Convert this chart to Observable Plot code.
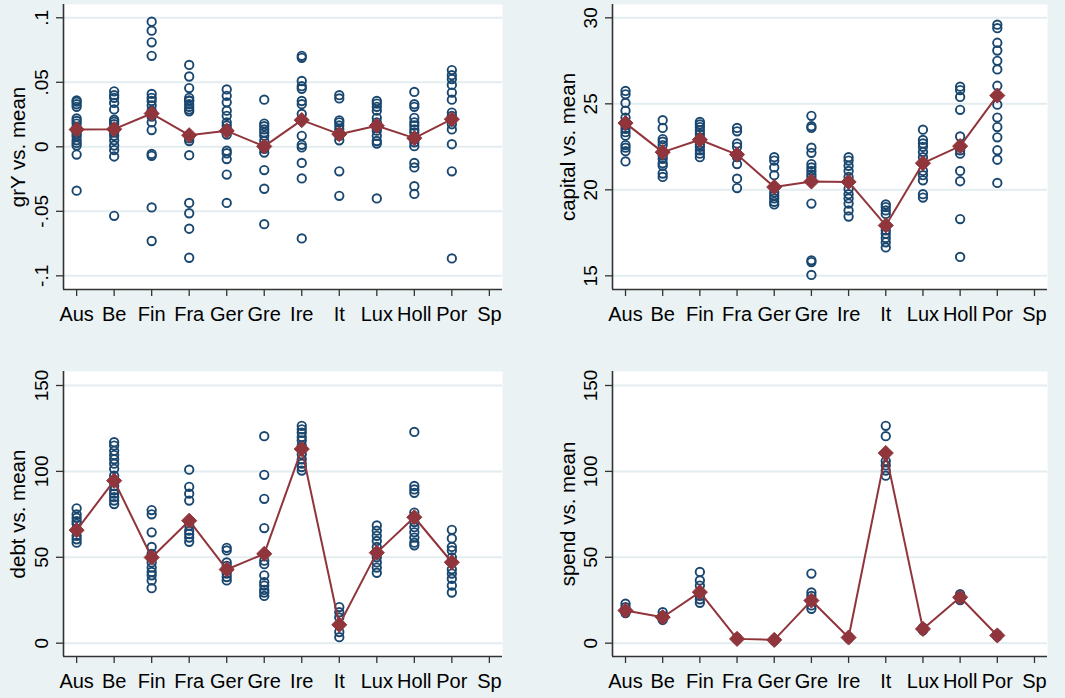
<!DOCTYPE html>
<html>
<head>
<meta charset="utf-8">
<script src="https://cdn.jsdelivr.net/npm/d3@7"></script>
<script src="https://cdn.jsdelivr.net/npm/@observablehq/plot@0.6"></script>
<style>
  html, body { margin: 0; padding: 0; background: #EAF2F3; }
  #wrap { position: relative; width: 1065px; height: 698px; background: #EAF2F3; overflow: hidden; }
  .panel { position: absolute; }
  .panel svg { display: block; background: transparent; }
</style>
</head>
<body>
<div id="wrap"></div>
<script>
// ---------------- data ----------------
const countries = ["Aus","Be","Fin","Fra","Ger","Gre","Ire","It","Lux","Holl","Por","Sp"];

// growth of Y, per country (observations)
const grY = [
  [0.036, 0.035, 0.033, 0.031, 0.022, 0.020, 0.018, 0.015, 0.012, 0.010, 0.008, 0.005, 0.003, 0.001, -0.006, -0.034],
  [0.043, 0.040, 0.038, 0.034, 0.029, 0.021, 0.0195, 0.0175, 0.013, 0.011, 0.0085, 0.005, 0.001, -0.0025, -0.0075, -0.0535],
  [0.097, 0.090, 0.081, 0.0705, 0.041, 0.038, 0.0355, 0.032, 0.028, 0.0235, 0.019, 0.013, -0.0055, -0.007, -0.047, -0.073],
  [0.0635, 0.0545, 0.0455, 0.038, 0.036, 0.0355, 0.033, 0.031, 0.029, 0.0275, 0.0065, 0.0045, -0.0065, -0.0435, -0.0515, -0.0635, -0.086],
  [0.0445, 0.0395, 0.0345, 0.028, 0.024, 0.019, 0.0165, 0.014, 0.0095, -0.003, -0.005, -0.0095, -0.0215, -0.0435],
  [0.0365, 0.018, 0.016, 0.0135, 0.011, 0.0085, 0.0045, -0.0015, -0.0045, -0.018, -0.0325, -0.060],
  [0.0705, 0.069, 0.051, 0.047, 0.045, 0.0355, 0.033, 0.0255, 0.0085, 0.0015, -0.0005, -0.0125, -0.0245, -0.071],
  [0.040, 0.0375, 0.0205, 0.019, 0.0165, 0.0135, 0.0085, 0.005, -0.019, -0.038],
  [0.0355, 0.0335, 0.031, 0.028, 0.0225, 0.019, 0.0145, 0.0125, 0.0085, 0.0045, 0.0025, -0.040],
  [0.0425, 0.033, 0.031, 0.0225, 0.019, 0.0165, 0.0135, 0.011, 0.0035, 0.0005, -0.0125, -0.016, -0.0305, -0.0365],
  [0.0595, 0.0555, 0.0525, 0.048, 0.042, 0.0365, 0.0265, 0.024, 0.0175, 0.0135, 0.002, -0.019, -0.0865],
  []
];
const grYMean = [0.0134, 0.0137, 0.0258, 0.009, 0.0124, 0.0003, 0.0207, 0.0098, 0.0163, 0.0067, 0.0214];

const capital = [
  [25.75, 25.55, 25.05, 24.6, 24.2, 23.75, 23.55, 23.35, 23.15, 22.6, 22.45, 22.25, 21.65],
  [24.05, 23.6, 22.95, 22.8, 22.6, 22.0, 21.8, 21.55, 21.4, 20.95, 20.75],
  [23.95, 23.8, 23.65, 23.45, 23.25, 23.05, 22.65, 22.5, 22.3, 22.1, 21.9],
  [23.6, 23.4, 22.7, 22.5, 21.9, 21.5, 20.65, 20.1],
  [21.9, 21.7, 21.3, 20.85, 19.85, 19.65, 19.5, 19.3, 19.15],
  [24.3, 23.7, 23.6, 22.45, 22.15, 21.5, 21.3, 21.1, 20.9, 20.75, 19.2, 15.9, 15.8, 15.05],
  [21.9, 21.7, 21.4, 21.1, 20.75, 20.05, 19.75, 19.5, 19.2, 18.8, 18.45],
  [19.15, 19.0, 18.8, 18.6, 17.65, 17.45, 17.2, 16.95, 16.65],
  [23.5, 22.9, 22.7, 22.5, 22.2, 21.9, 21.1, 20.85, 20.55, 19.75, 19.55],
  [26.0, 25.8, 25.4, 24.65, 23.1, 22.3, 22.1, 21.1, 20.5, 18.3, 16.1],
  [29.6, 29.4, 28.55, 28.1, 27.5, 27.0, 26.05, 24.95, 24.2, 23.65, 23.05, 22.3, 21.75, 20.4],
  []
];
const capitalMean = [23.88, 22.19, 22.91, 22.05, 20.16, 20.48, 20.46, 17.93, 21.55, 22.54, 25.48];

const debt = [
  [78.5, 75, 73, 71, 69.5, 66.5, 62.5, 60.5, 58.5],
  [117, 115, 112, 109.5, 107, 104.5, 101.5, 97.5, 91.5, 89, 87, 85, 83, 81],
  [77.5, 75, 64.5, 56, 52, 47, 44, 41.5, 39.5, 36.5, 32],
  [101, 91, 87, 83, 68.5, 65.5, 63.5, 61.5, 59],
  [55.5, 54, 47, 45, 40.5, 38.5, 36.5],
  [120.5, 98, 84, 67, 48, 46, 39.5, 35.5, 33.5, 31, 29.5, 27.5],
  [126.5, 124.5, 122.5, 120, 118, 115, 110, 107, 104.5, 102.5, 100.5],
  [21, 18, 15, 6.5, 3.5],
  [68.5, 65.5, 62.5, 59.5, 56, 50, 47, 44, 41],
  [123, 91.5, 89.5, 87.5, 76, 70.5, 67.5, 64.5, 61.5, 58.5, 57],
  [66, 61, 56, 54, 50, 43, 40.5, 37.5, 33.5, 29.5],
  []
];
const debtMean = [65.8, 94.6, 49.9, 71.3, 42.9, 52.0, 113.0, 10.7, 52.7, 73.3, 47.1];

const spend = [
  [23, 21, 17.5, 19],
  [18, 13.5, 16],
  [41.5, 36.5, 33.5, 27.5, 25.5, 23.5],
  [2.5, 3],
  [2, 1.5],
  [40.5, 29.5, 27.5, 22, 20],
  [3.5, 3],
  [126.5, 120.5, 106, 103.5, 100.5, 97.5],
  [9, 8, 7.5],
  [28.5, 25, 27],
  [5, 4],
  []
];
const spendMean = [19.0, 15.1, 29.7, 2.5, 1.9, 24.8, 3.3, 110.7, 8.3, 26.7, 4.5];

const grYTicks = [-0.1, -0.05, 0, 0.05, 0.1];
const capitalTicks = [15, 20, 25, 30];
const levelTicks = [0, 50, 100, 150];
const titles = ["grY vs. mean", "capital vs. mean", "debt vs. mean", "spend vs. mean"];

// ---------------- style ----------------
const NAVY = "#1a476f";
const MAROON = "#90353b";
const GRID = "#e3ecef";
const AXIS = "#333333";
const FONT = "'Liberation Sans', Arial, Helvetica, sans-serif";
const xDomain = [0.65, 12.35];

const stataFmt = d => String(+d.toFixed(4)).replace(/^(-?)0\./, "$1.");

function panel(cfg) {
  const pts = cfg.points.flatMap((arr, i) => arr.map(v => ({i: i + 1, v})));
  const means = cfg.means.map((v, i) => ({i: i + 1, v}));
  const chart = Plot.plot({
    width: cfg.width,
    height: cfg.height,
    marginLeft: cfg.ml, marginRight: cfg.mr, marginTop: cfg.mt, marginBottom: cfg.mb,
    style: {fontFamily: FONT, color: "#000", background: "transparent", overflow: "visible"},
    x: {domain: xDomain, label: null},
    y: {domain: cfg.yDomain, label: null},
    marks: [
      Plot.frame({fill: "white", stroke: "none"}),
      Plot.gridY(cfg.yTicks, {stroke: GRID, strokeOpacity: 1, strokeWidth: 2}),
      Plot.ruleX([xDomain[0]], {stroke: AXIS, strokeWidth: 1.6}),
      Plot.ruleY([cfg.yDomain[0]], {stroke: AXIS, strokeWidth: 1.6}),
      Plot.axisX(d3.range(1, countries.length + 1), {
        tickFormat: i => countries[i - 1], tickSize: 7, tickPadding: 10,
        fontSize: 20, stroke: AXIS, strokeWidth: 1.3, label: null
      }),
      Plot.axisY(cfg.yTicks, {
        tickFormat: stataFmt, tickSize: 7, tickPadding: 9, tickRotate: -90,
        fontSize: 19, stroke: AXIS, strokeWidth: 1.3, label: null
      }),
      Plot.text([cfg.title], {
        text: d => d, frameAnchor: "left", rotate: -90, dx: cfg.titleDx,
        lineAnchor: "bottom", textAnchor: "middle", fontSize: 20.5, fill: "#000"
      }),
      Plot.dot(pts, {x: "i", y: "v", r: 4.2, stroke: NAVY, strokeWidth: 1.9, fill: "none"}),
      Plot.line(means, {x: "i", y: "v", stroke: MAROON, strokeWidth: 2}),
      Plot.dot(means, {x: "i", y: "v", symbol: "diamond2", r: 6.8, fill: MAROON, stroke: MAROON, strokeWidth: 1})
    ]
  });
  const div = document.createElement("div");
  div.className = "panel";
  div.style.left = cfg.left + "px";
  div.style.top = cfg.top + "px";
  div.appendChild(chart);
  document.getElementById("wrap").appendChild(div);
}

panel({left: 0, top: 0, width: 530, height: 340, ml: 63, mr: 28, mt: 4, mb: 51,
  yDomain: [-0.1106, 0.1103], yTicks: grYTicks, title: titles[0], titleDx: -39,
  points: grY, means: grYMean});
panel({left: 530, top: 0, width: 535, height: 340, ml: 82, mr: 18, mt: 4, mb: 51,
  yDomain: [14.205, 30.775], yTicks: capitalTicks, title: titles[1], titleDx: -38,
  points: capital, means: capitalMean});
panel({left: 0, top: 350, width: 530, height: 348, ml: 63, mr: 28, mt: 21, mb: 42,
  yDomain: [-7.76, 158.15], yTicks: levelTicks, title: titles[2], titleDx: -39,
  points: debt, means: debtMean});
panel({left: 530, top: 350, width: 535, height: 348, ml: 82, mr: 18, mt: 21, mb: 42,
  yDomain: [-7.76, 158.15], yTicks: levelTicks, title: titles[3], titleDx: -38,
  points: spend, means: spendMean});
</script>
</body>
</html>
